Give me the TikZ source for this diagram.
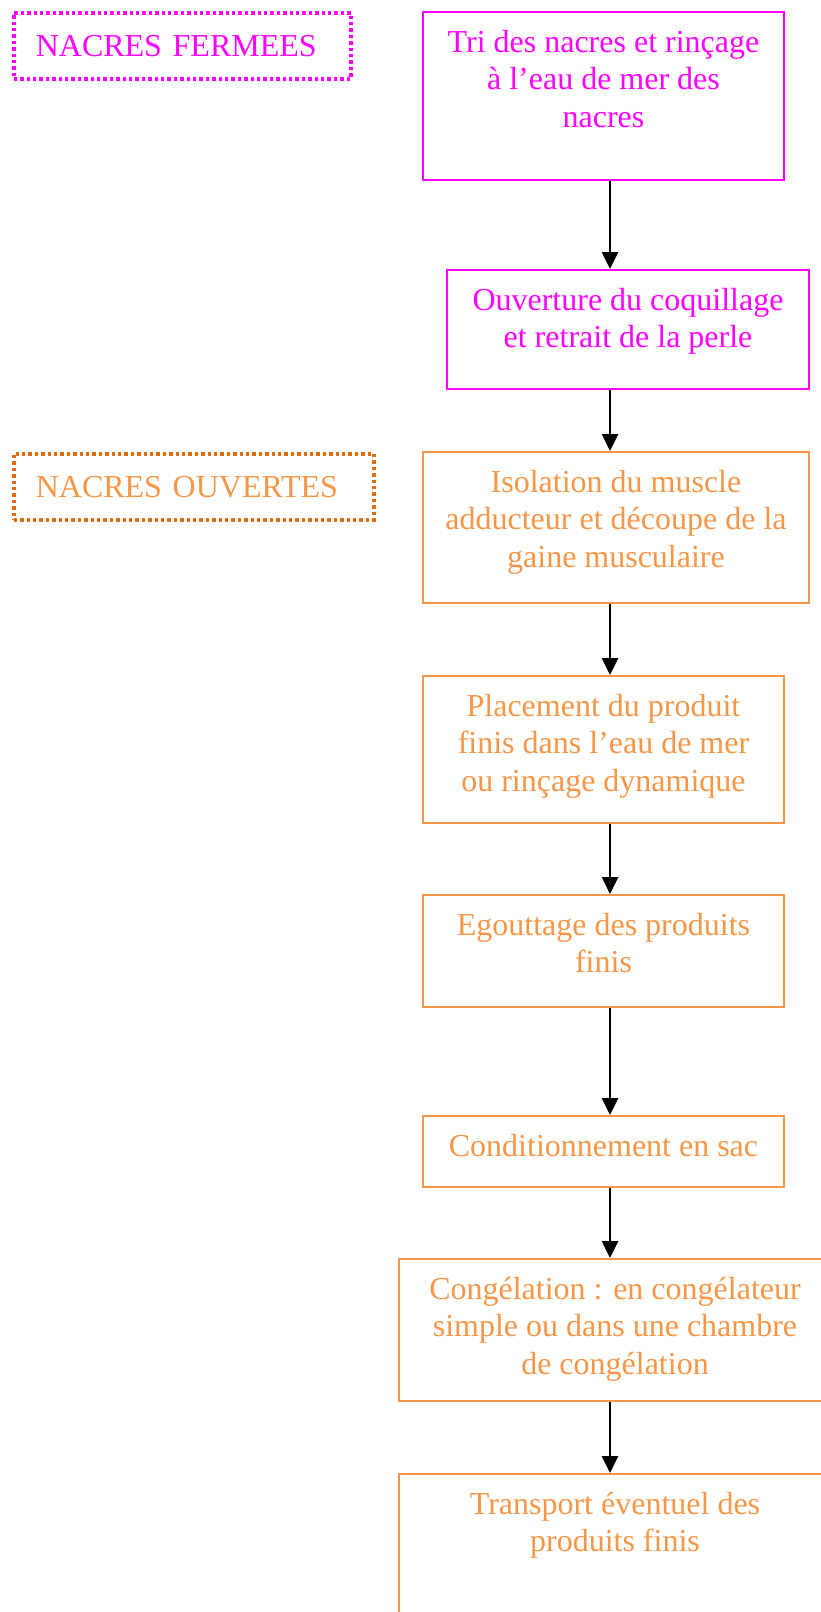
\documentclass[tikz,border=0pt]{standalone}
\usepackage{fontspec}
\setmainfont{Liberation Serif}
\usetikzlibrary{arrows.meta}
\definecolor{nacremag}{HTML}{FF00FF}
\definecolor{nacreorange}{HTML}{F79646}
\definecolor{darkorange}{HTML}{E36C0A}
% top aligned text of a step box: height, width, text
\newcommand{\boxtext}[3]{\parbox[t][#1][t]{#2}{\centering\rule{0pt}{40pt}#3}}

\begin{document}
\begin{tikzpicture}[
  x=1pt, y=-1pt,
  every node/.style={font=\fontsize{32}{37.5}\selectfont},
  stepbox/.style={rectangle, draw=#1, text=#1, line width=2pt, inner sep=0pt, anchor=north west},
  tagbox/.style={rectangle, draw=#1, line width=3.6pt, dash pattern=on 3.4pt off 3pt, inner xsep=22pt, inner ysep=0pt, minimum height=66pt, align=left, anchor=north west},
  arrow/.style={-{Triangle[length=17pt,width=16pt]}, line width=2.6pt, draw=black}
]
\useasboundingbox (0,0) rectangle (821,1612);

% tags on the left
\node[tagbox=nacremag, text=nacremag, text width=293pt] (fermees) at (12,11) {NACRES FERMEES};
\node[tagbox=darkorange, text=nacreorange, text width=316pt] (ouvertes) at (12,452) {NACRES OUVERTES};

% steps
\node[stepbox=nacremag] (tri) at (422,11) {\boxtext{168pt}{361pt}{Tri des nacres et rinçage\\à l’eau de mer des\\nacres}};
\node[stepbox=nacremag] (ouv) at (446,269) {\boxtext{119pt}{362pt}{Ouverture du coquillage\\et retrait de la perle}};
\node[stepbox=nacreorange] (iso) at (422,451) {\boxtext{151pt}{386pt}{Isolation du muscle\\adducteur et découpe de la\\gaine musculaire}};
\node[stepbox=nacreorange] (plac) at (422,675) {\boxtext{147pt}{361pt}{Placement du produit\\finis dans l’eau de mer\\ou rinçage dynamique}};
\node[stepbox=nacreorange] (egou) at (422,894) {\boxtext{112pt}{361pt}{Egouttage des produits\\finis}};
\node[stepbox=nacreorange] (cond) at (422,1115) {\boxtext{71pt}{361pt}{Conditionnement en sac}};
\node[stepbox=nacreorange] (cong) at (398,1258) {\boxtext{142pt}{432pt}{Congélation : en congélateur\\simple ou dans une chambre\\de congélation}};
\node[stepbox=nacreorange] (trans) at (398,1473) {\boxtext{200pt}{432pt}{Transport éventuel des\\produits finis}};

% arrows
\coordinate (axis) at (610,0);
\foreach \a/\b in {tri/ouv, ouv/iso, iso/plac, plac/egou, egou/cond, cond/cong, cong/trans}
  \draw[arrow] (\a.south -| axis) -- (\b.north -| axis);
\end{tikzpicture}
\end{document}
